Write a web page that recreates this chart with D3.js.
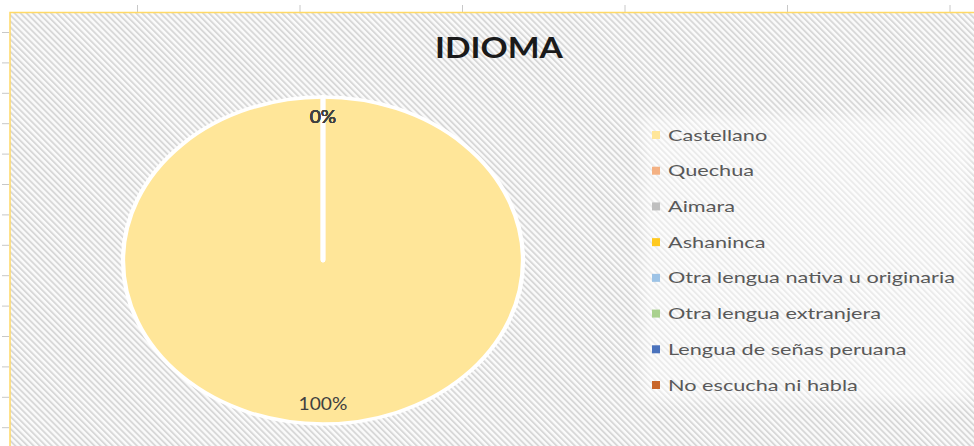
<!DOCTYPE html>
<html lang="es">
<head>
<meta charset="UTF-8">
<title>IDIOMA</title>
<script src="https://d3js.org/d3.v7.min.js"></script>
<style>
  body { margin: 0; background: #fff; }
  svg { display: block; font-family: Lato, "Open Sans", sans-serif; }
</style>
</head>
<body>
<div id="chart"></div>
<script>
// datos del grafico
const categorias = ["Castellano", "Quechua", "Aimara", "Ashaninca",
  "Otra lengua nativa u originaria", "Otra lengua extranjera",
  "Lengua de señas peruana", "No escucha ni habla"];
const porcentajes = [100, 0, 0, 0, 0, 0, 0, 0];
const colores = ["#FFE699", "#F4B183", "#BFBFBF", "#FFC91F",
  "#9DC3E6", "#A9D18E", "#4A72BC", "#C8662A"];
const titulo = "IDIOMA";

const width = 974, height = 446;

const svg = d3.select("#chart").append("svg")
  .attr("width", width)
  .attr("height", height);

const defs = svg.append("defs");

// fondo rayado diagonal
const pat = defs.append("pattern")
  .attr("id", "rayas")
  .attr("patternUnits", "userSpaceOnUse")
  .attr("width", 4.3)
  .attr("height", 4.3)
  .attr("patternTransform", "rotate(-45)");
pat.append("rect").attr("width", 4.3).attr("height", 4.3).attr("fill", "#fbfbfb");
pat.append("rect").attr("width", 1.9).attr("height", 4.3).attr("fill", "#d8d8d8");

defs.append("filter").attr("id", "suave")
  .append("feGaussianBlur").attr("stdDeviation", 6);

// marco tipo hoja de calculo (reglas)
svg.append("rect").attr("width", width).attr("height", height).attr("fill", "#fff");
svg.append("g").selectAll("line")
  .data(d3.range(6))
  .join("line")
  .attr("x1", i => 137.5 + i * 162.5).attr("x2", i => 137.5 + i * 162.5)
  .attr("y1", 5).attr("y2", 12)
  .attr("stroke", "#c8c8c8");
svg.append("g").selectAll("line")
  .data(d3.range(14))
  .join("line")
  .attr("y1", i => 32.5 + i * 30.4).attr("y2", i => 32.5 + i * 30.4)
  .attr("x1", 2).attr("x2", 9)
  .attr("stroke", "#c8c8c8");

// area del grafico
svg.append("rect")
  .attr("x", 10).attr("y", 12.5)
  .attr("width", width).attr("height", height)
  .attr("fill", "url(#rayas)")
  .attr("stroke", "#FFD966")
  .attr("stroke-width", 1.5);

// titulo
const t = svg.append("text")
  .attr("x", 435).attr("y", 58)
  .attr("font-size", 29)
  .attr("font-weight", 700)
  .attr("fill", "#1a1a1a")
  .attr("textLength", 128)
  .attr("lengthAdjust", "spacingAndGlyphs")
  .text(titulo);

// pastel (eliptico como en la imagen)
const cx = 323, cy = 260.5, rx = 200, ry = 163.5;
const pie = d3.pie().sort(null).value(d => d.v);
const datos = categorias.map((c, i) => ({ c, v: porcentajes[i], col: colores[i] }));
const arcs = pie(datos);
const arc = d3.arc().innerRadius(0).outerRadius(ry);
const labelArc = d3.arc().innerRadius(ry * 0.88).outerRadius(ry * 0.88);

const g = svg.append("g")
  .attr("transform", `translate(${cx},${cy}) scale(${rx / ry},1)`);

g.selectAll("path")
  .data(arcs)
  .join("path")
  .attr("d", arc)
  .attr("fill", d => d.data.col)
  .attr("stroke", "#fff")
  .attr("stroke-width", 3.5)
  .attr("stroke-linejoin", "round");

const total = d3.sum(porcentajes);
svg.append("g").selectAll("text")
  .data(arcs)
  .join("text")
  .attr("x", d => cx + labelArc.centroid(d)[0] * rx / ry)
  .attr("y", d => cy + labelArc.centroid(d)[1])
  .attr("dy", "0.35em")
  .attr("text-anchor", "middle")
  .attr("font-size", 17)
  .attr("fill", "#404040")
  .text(d => d3.format(".0%")(d.data.v / total))
  .each(function () {
    const n = this.getComputedTextLength();
    d3.select(this).attr("textLength", n * 1.13).attr("lengthAdjust", "spacingAndGlyphs");
  });

// leyenda
svg.append("rect")
  .attr("x", 642).attr("y", 116)
  .attr("width", 330).attr("height", 285)
  .attr("fill", "#ffffff").attr("opacity", 0.5)
  .attr("filter", "url(#suave)");

const yLeg = d3.scalePoint()
  .domain(categorias)
  .range([135, 385]);

const leg = svg.append("g").selectAll("g")
  .data(datos)
  .join("g")
  .attr("transform", d => `translate(652,${yLeg(d.c)})`);

leg.append("rect")
  .attr("x", 0).attr("y", -4)
  .attr("width", 8).attr("height", 8)
  .attr("fill", d => d.col);

const legText = leg.append("text")
  .attr("x", 16).attr("y", 5.5)
  .attr("font-size", 16)
  .attr("fill", "#595959")
  .text(d => d.c);

// estirar horizontalmente como en la captura
let maxLen = 0;
legText.each(function () { maxLen = Math.max(maxLen, this.getComputedTextLength()); });
const k = 287 / maxLen;
legText.each(function () {
  d3.select(this)
    .attr("textLength", this.getComputedTextLength() * k)
    .attr("lengthAdjust", "spacingAndGlyphs");
});
</script>
</body>
</html>
